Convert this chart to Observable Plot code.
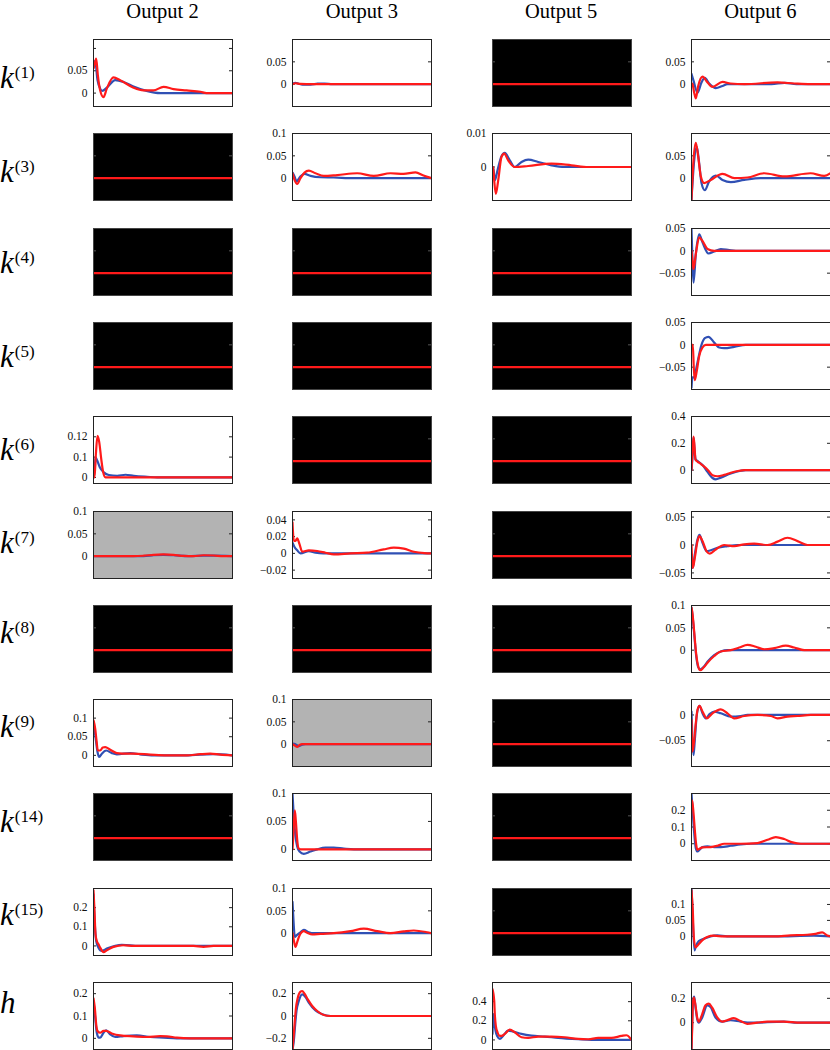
<!DOCTYPE html>
<html><head><meta charset="utf-8">
<script src="https://cdn.jsdelivr.net/npm/d3@7"></script>
<script src="https://cdn.jsdelivr.net/npm/@observablehq/plot@0.6"></script>
<style>
body{margin:0;background:#fff;}
#wrap{position:relative;width:830px;height:1050px;overflow:hidden;font-family:"Liberation Serif","Times New Roman",serif;color:#000;}
.title{position:absolute;top:0;font-size:20.5px;line-height:normal;white-space:nowrap;transform:translateX(-50%);}
.rowlab{position:absolute;left:0;font-size:31px;line-height:31px;font-style:italic;white-space:nowrap;}
.rowlab sup{font-style:normal;font-size:17px;line-height:0;position:relative;top:-10px;vertical-align:baseline;margin-left:1px;}
svg.panel text{font-family:"Liberation Serif","Times New Roman",serif !important;}
</style></head>
<body><div id="wrap"></div>
<script>
// ---------- categories ----------
const outputs = ["Output 2","Output 3","Output 5","Output 6"];
const colKeys = ["o2","o3","o5","o6"];
const rowKeys = ["k1","k3","k4","k5","k6","k7","k8","k9","k14","k15","h"];
const rowBase = ["k","k","k","k","k","k","k","k","k","k","h"];
const rowSup  = ["(1)","(3)","(4)","(5)","(6)","(7)","(8)","(9)","(14)","(15)",""];
// L = fitted panel, B = black (zero) panel, G = gray panel
const kinds = ["LLBL","BLLL","BBBL","BBBL","LBBL","GLBL","BBBL","LGBL","BLBL","LLBL","LLLL"];

// ---------- y scales ----------
const yDomain = {
  k1_o2:[-0.03,0.12], k1_o3:[-0.05,0.1], k1_o6:[-0.05,0.1],
  k3_o3:[-0.05,0.1], k3_o5:[-0.01,0.01], k3_o6:[-0.05,0.1],
  k4_o6:[-0.1,0.05], k5_o6:[-0.1,0.05],
  k6_o2:[-0.03,0.3], k6_o6:[-0.1,0.4],
  k7_o2:[-0.05,0.1], k7_o3:[-0.03,0.05], k7_o6:[-0.06,0.06],
  k8_o6:[-0.05,0.1],
  k9_o2:[-0.03,0.15], k9_o3:[-0.05,0.1], k9_o6:[-0.1,0.03],
  k14_o3:[-0.02,0.1], k14_o6:[-0.1,0.3],
  k15_o2:[-0.05,0.3], k15_o3:[-0.05,0.1], k15_o6:[-0.06,0.15],
  h_o2:[-0.05,0.25], h_o3:[-0.3,0.3], h_o5:[-0.1,0.6], h_o6:[-0.22,0.33]
};
const yTicks = {
  k1_o2:[0,0.05,0.1], k1_o3:[0,0.05,0.1], k1_o6:[0,0.05,0.1],
  k3_o3:[0,0.05,0.1], k3_o5:[0,0.01], k3_o6:[0,0.05,0.1],
  k4_o6:[-0.05,0,0.05], k5_o6:[-0.05,0,0.05],
  k6_o2:[0,0.1,0.2], k6_o6:[0,0.2,0.4],
  k7_o2:[0,0.05,0.1], k7_o3:[-0.02,0,0.02,0.04], k7_o6:[-0.05,0,0.05],
  k8_o6:[0,0.05,0.1],
  k9_o2:[0,0.05,0.1], k9_o3:[0,0.05,0.1], k9_o6:[-0.05,0],
  k14_o3:[0,0.05,0.1], k14_o6:[0,0.1,0.2],
  k15_o2:[0,0.1,0.2], k15_o3:[0,0.05,0.1], k15_o6:[0,0.05,0.1],
  h_o2:[0,0.1,0.2], h_o3:[-0.2,0,0.2], h_o5:[0,0.2,0.4], h_o6:[0,0.2]
};
// ticks drawn without a label
const yUnlabeled = {k1_o2:[0.1], k1_o3:[0.1], k1_o6:[0.1], k3_o6:[0.1]};
// label text that differs from the tick value
const yLabelText = {k6_o2:[[0.2,"0.12"]]};
const offDomain = [-0.05,0.1];
const offTicks = [0,0.05];
const xDomain = [0,139];

// ---------- series: [lag, value] ----------
const k1_o2_blue = [[0,0.06],[0.7,0.068],[1.7,0.072],[4,0.029],[6.7,0.01],[8.7,0.005],[13.3,0.012],[21.7,0.029],[30,0.025],[40,0.015],[53,0.005],[67,0],[139,0]];
const k1_o2_red  = [[0,0.055],[0.7,0.06],[2.7,0.077],[4.3,0.041],[6.7,0.006],[10,-0.009],[13.3,0.01],[20,0.035],[26.7,0.029],[40,0.012],[50,0.006],[60,0.006],[70,0.014],[80,0.009],[93,0.006],[107,0.003],[113,0],[139,0]];
const k1_o3_blue = [[0,0.001],[3,0.003],[6,0.001],[10,-0.001],[18,-0.001],[25,0.001],[32,0.0015],[40,0],[139,0]];
const k1_o3_red  = [[0,0],[3,0.002],[8,0.0005],[20,0],[139,0]];
const k1_o6_blue = [[0,0.023],[2,0.008],[6,-0.019],[10,0.004],[13.3,0.014],[17.7,0.0015],[24.3,-0.009],[31,-0.004],[36,0],[80,0],[93,0.003],[105,0],[139,0]];
const k1_o6_red  = [[0,0.002],[1,0],[2.7,-0.019],[4.3,-0.032],[6.7,-0.004],[11,0.017],[16,0.004],[21,-0.006],[31,0.005],[39,0.0015],[53,0],[86,0.004],[103,0.0015],[119,0],[139,0]];

const k3_o3_blue = [[0,0.0125],[2,0.004],[4,-0.007],[8,0.004],[12,0.0095],[18,0.005],[28,0.002],[41,0.0015],[61,0],[139,0]];
const k3_o3_red  = [[0,0.011],[2,-0.004],[4.7,-0.013],[8,0],[12,0.0125],[16.3,0.017],[23,0.011],[31.3,0.005],[44.7,0.007],[64.7,0.011],[81.3,0.005],[98,0.011],[111,0.0095],[123,0.013],[131,0.006],[139,0]];
const k3_o5_blue = [[0,0],[0.7,0],[2.3,-0.004],[5,-0.001],[9,0.0032],[12.3,0.0042],[17.3,0.002],[22.3,0],[29,0.0015],[35.7,0.0022],[45.7,0.0015],[59,0.0005],[72,0],[139,0]];
const k3_o5_red  = [[0,0],[0.7,0],[1.7,-0.004],[3.3,-0.008],[5.7,-0.004],[9,0.003],[11.7,0.004],[15.7,0.002],[22.3,0],[35.7,0.0003],[59,0.001],[79,0.0005],[95.7,0],[139,0]];
const k3_o6_blue = [[0,-0.048],[2.7,0.04],[5.3,0.07],[7.7,0.033],[10,-0.011],[13.3,-0.027],[17.7,-0.007],[24.3,0.006],[31,-0.004],[39.3,-0.009],[52.7,-0.004],[69,0],[139,0]];
const k3_o6_red  = [[0,-0.048],[2,0.04],[4.3,0.079],[6.7,0.048],[9.3,0.004],[12.7,-0.011],[19.3,-0.004],[31,0.0096],[43,0],[56,0.0015],[72.7,0.011],[93,0.004],[119,0.011],[132.7,0.005],[139,0.011]];

const k4_o6_blue = [[0,0.048],[1,-0.022],[2,-0.071],[4.3,-0.0075],[7.7,0.037],[11,0.019],[17,-0.006],[22.7,-0.0015],[29.3,0.004],[37.7,0.0015],[44.3,0],[139,0]];
const k4_o6_red  = [[0,0],[1,-0.022],[2,-0.041],[4.3,-0.0075],[7.7,0.03],[11,0.022],[16,0.004],[22.7,0],[139,0]];
const k5_o6_blue = [[0,-0.096],[1,-0.073],[2.7,-0.073],[5.3,-0.047],[10,0],[13.3,0.015],[17,0.018],[22.7,0.005],[27.7,-0.006],[32.7,-0.0075],[42.7,-0.0045],[54.3,0],[139,0]];
const k5_o6_red  = [[0,0],[1.3,0],[2.3,-0.051],[3.3,-0.079],[5.3,-0.058],[7.7,-0.025],[11,-0.006],[14.3,0],[139,0]];

const k6_o2_blue = [[0,0.0],[1.3,0.042],[2,0.1],[3.7,0.083],[6.3,0.05],[10.3,0.025],[15.3,0.012],[23.7,0.008],[32,0.013],[40.3,0.008],[53.7,0.003],[63.7,0],[139,0]];
const k6_o2_red  = [[0,0],[1,0],[2.3,0.108],[4,0.205],[5.7,0.175],[7.7,0.092],[9.7,0.025],[12,0],[139,0]];
const k6_o6_blue = [[0,0],[1,0.1],[2,0.244],[3,0.154],[4,0.082],[6.7,0.064],[11,0.038],[16,-0.013],[21,-0.059],[24.3,-0.069],[29.3,-0.056],[39.3,-0.026],[49.3,-0.005],[54.3,0],[139,0]];
const k6_o6_red  = [[0,0],[1,0.128],[2,0.25],[3,0.18],[4,0.077],[6,0.064],[9.3,0.046],[12.7,0.026],[17,-0.005],[21,-0.038],[26,-0.046],[32.7,-0.036],[39.3,-0.02],[47.7,-0.005],[52.7,0],[139,0]];

const k7_o2_blue = [[0,0],[50,0],[60,0.002],[70,0.003],[80,0.002],[95,0],[110,0.001],[120,0.001],[139,0]];
const k7_o2_red  = [[0,0],[40,0],[50,0.001],[60,0.003],[70,0.004],[80,0.003],[90,0.0005],[100,0],[110,0.002],[120,0.0015],[130,0],[139,0]];
const k7_o3_blue = [[0,0.0127],[2,0.0076],[4.7,0.0036],[8,0],[16.3,0.0028],[23,0.0008],[31,0],[139,0]];
const k7_o3_red  = [[0,0.037],[1.3,0.015],[3,0.015],[4.7,0.018],[7,0.011],[9.7,0.002],[16.3,0.0036],[24.7,0.0028],[33,0.0008],[41.3,-0.0012],[58,0],[74.7,0.0008],[91.3,0.0048],[101.3,0.0068],[111.3,0.0056],[121.3,0.002],[132,0.0003],[139,0]];
const k7_o6_blue = [[0,-0.038],[1.3,-0.041],[3.3,-0.017],[6,0.01],[8,0.018],[11,0.004],[15.3,-0.011],[19.3,-0.0095],[26,-0.005],[36,-0.002],[46,0],[139,0]];
const k7_o6_red  = [[0,0],[0.7,-0.029],[1.3,-0.041],[3.3,-0.023],[6,0.007],[8,0.016],[11,0.007],[15.3,-0.012],[18.3,-0.0155],[24.3,-0.008],[32.7,0],[42.7,-0.002],[52.7,0.0012],[62.7,0.0024],[76,0],[86,0.006],[96,0.013],[106,0.007],[116,0],[139,0]];

const k8_o6_blue = [[0,0.095],[1,0.078],[2,0.055],[3.3,0.021],[4.7,-0.013],[6.7,-0.038],[8.7,-0.043],[12,-0.038],[16,-0.026],[22.7,-0.011],[29.3,-0.003],[36,0],[139,0]];
const k8_o6_red  = [[0,0.095],[1,0.082],[2,0.059],[3.3,0.025],[4.7,-0.009],[6.7,-0.036],[8.7,-0.045],[12,-0.039],[16,-0.028],[22.7,-0.013],[29.3,-0.003],[39.3,0],[47.7,0.006],[56,0.012],[64.3,0.0076],[72.7,0.002],[82.7,0.0045],[94.3,0.01],[102.7,0.006],[112.7,0],[139,0]];

const k9_o2_blue = [[0,0.09],[2,0.049],[4,0.009],[5.7,-0.0045],[8.3,0.0045],[12.7,0.013],[18.3,0.006],[23.3,0.0027],[36.7,0.006],[46.7,0.0027],[60,0],[95,0],[106.7,0.002],[120,0.003],[139,0]];
const k9_o2_red  = [[0,0.094],[1.7,0.072],[3,0.04],[4.3,0.013],[6.7,0.013],[9.3,0.021],[11.7,0.022],[16.7,0.015],[23.3,0.006],[33.3,0.0045],[40,0.0045],[56.7,0.002],[73.3,0],[93.3,0],[106.7,0.003],[116.7,0.0045],[126.7,0.002],[139,0]];
const k9_o3_blue = [[0,0.0015],[3,0],[6.3,-0.0045],[9.7,-0.001],[13,0],[139,0]];
const k9_o3_red  = [[0,0],[2.3,-0.003],[4.7,-0.006],[7,-0.002],[9.7,0],[139,0]];
const k9_o6_blue = [[0,0.0065],[1,-0.049],[2,-0.078],[3.3,-0.049],[5.3,0],[8,0.0175],[11,0.0032],[14.3,-0.0065],[18.3,0.002],[22.7,0.0065],[29.3,0.0032],[39.3,-0.0032],[49.3,-0.002],[56,0],[139,0]];
const k9_o6_red  = [[0,-0.01],[1,-0.071],[2.7,-0.049],[4.3,-0.016],[6,0.01],[8,0.0175],[11,0.0065],[15.3,-0.0065],[21,0.0032],[29.3,0.011],[36,0.0032],[42.7,-0.0065],[52.7,-0.002],[66,0],[79.3,-0.002],[86,-0.0065],[96,-0.0032],[106,-0.002],[119.3,0],[139,0]];

const k14_o3_blue = [[0,0.1],[1.3,0.058],[3,0.023],[4.7,0.005],[7,-0.004],[11.3,-0.008],[18,-0.004],[24.7,0],[33,0.003],[41.3,0.003],[51.3,0.0012],[61.3,0],[139,0]];
const k14_o3_red  = [[0,0],[1,0.029],[2.3,0.07],[3.3,0.052],[4.7,0.017],[6,0.002],[8,0],[139,0]];
const k14_o6_blue = [[0,0.3],[1.3,0.184],[2.7,0.064],[4.3,-0.026],[6,-0.046],[8,-0.036],[11,-0.02],[16,-0.016],[22.7,-0.02],[29.3,-0.02],[39.3,-0.012],[49.3,-0.004],[59.3,0],[139,0]];
const k14_o6_red  = [[0,0.26],[1,0.244],[2,0.184],[3.3,0.084],[4.7,-0.006],[6,-0.036],[8,-0.03],[11,-0.022],[19.3,-0.02],[26,-0.012],[32.7,0],[49.3,0],[66,0.004],[76,0.024],[84.3,0.04],[92.7,0.028],[101,0.008],[109.3,0],[139,0]];

const k15_o2_blue = [[0,0.27],[1.3,0.114],[2.7,0.026],[5,-0.009],[8.3,-0.026],[13.3,-0.014],[21.7,0],[28.3,0.005],[36.7,0.0035],[43.3,0],[139,0]];
const k15_o2_red  = [[0,0.29],[1,0.184],[2,0.061],[3.3,0.026],[5,0.009],[6.7,-0.009],[10,-0.032],[13.3,-0.023],[20,-0.005],[30,0.0035],[40,0],[100,0],[110,-0.005],[120,0],[139,0]];
const k15_o3_blue = [[0,0.07],[1,0.028],[2.3,-0.009],[4,-0.005],[8,0.002],[11.3,0.0075],[16.3,0.002],[21.3,0],[139,0]];
const k15_o3_red  = [[0,0],[1.3,-0.016],[3,-0.031],[4.7,-0.02],[7,-0.005],[11.3,0.0045],[14.7,0.0008],[19.7,-0.003],[28,-0.0015],[41.3,0],[58,0.0045],[71.3,0.01],[84.7,0.0045],[98,0],[111.3,0.004],[121.3,0.006],[134.7,0.002],[139,0]];
const k15_o6_blue = [[0,0.154],[1.3,0.05],[3,-0.044],[4.7,-0.028],[7.3,-0.0146],[12.3,-0.0073],[19,0],[25.7,0.003],[35.7,0],[82.3,0],[122.3,0.002],[139,0]];
const k15_o6_red  = [[0,0.144],[1.3,0.081],[2.3,-0.002],[4,-0.035],[6.3,-0.028],[10.7,-0.0125],[15.7,-0.002],[22.3,0.002],[32.3,0],[82.3,0],[99,0.003],[115.7,0.005],[124,0.008],[130.7,0.0125],[135.7,0.003],[139,0]];

const h_o2_blue = [[0,0.167],[1.7,0.093],[3.3,0.025],[5.3,0.003],[6.7,0.003],[10,0.025],[12.7,0.036],[16.7,0.018],[21.7,0.006],[30,0.01],[43.3,0.013],[56.7,0.006],[70,0.003],[83.3,0],[139,0]];
const h_o2_red  = [[0,0.179],[1.3,0.137],[2.7,0.063],[4,0.033],[6.7,0.025],[10,0.033],[12.7,0.033],[18.3,0.022],[26.7,0.013],[40,0.009],[53.3,0.006],[66.7,0.01],[73.3,0.009],[83.3,0.003],[96.7,0],[139,0]];
const h_o3_blue = [[0,-0.3],[1.3,-0.224],[2.7,-0.075],[4,0.045],[6.3,0.134],[9.7,0.194],[13,0.17],[16.3,0.12],[23,0.05],[29.7,0.015],[38,0],[139,0]];
const h_o3_red  = [[0,-0.3],[1.3,-0.164],[2.3,-0.045],[3.3,0.06],[5.3,0.164],[8,0.218],[9.7,0.224],[12,0.2],[15.3,0.149],[19.7,0.09],[24.7,0.045],[31.3,0.009],[38,0],[139,0]];
const h_o5_blue = [[0,0.063],[1,0.27],[1.7,0.2],[3,0.097],[5,0.035],[7.3,0.01],[10.7,0.045],[15.7,0.097],[20.7,0.087],[29,0.063],[39,0.045],[52.3,0.035],[65.7,0.021],[85.7,0.007],[99,0],[139,0]];
const h_o5_red  = [[0,0.53],[1.7,0.41],[2.3,0.27],[3.3,0.15],[5,0.08],[6.7,0.045],[9,0.042],[12.3,0.063],[17.3,0.108],[22.3,0.08],[29,0.028],[35.7,0.021],[45.7,0.035],[59,0.035],[72.3,0.028],[85.7,0.01],[95.7,0.007],[105.7,0.021],[119,0.021],[129,0.042],[134,0.049],[139,0]];
const h_o6_blue = [[0,-0.22],[0.7,0.014],[1.7,0.186],[2.7,0.214],[4,0.129],[5.7,0.029],[7.3,0],[10.7,0.043],[15.7,0.143],[19,0.129],[24,0.043],[30.7,0.009],[39,0.02],[49,0.009],[59,0],[92.3,0.009],[105.7,0],[139,0]];
const h_o6_red  = [[0,-0.22],[0.7,-0.043],[1.3,0.157],[2.3,0.206],[3.7,0.157],[5.7,0.043],[7.3,0.009],[10.7,0.071],[14,0.143],[17.3,0.157],[20.7,0.123],[25.7,0.043],[30.7,0.009],[35.7,0.02],[42.3,0.037],[49,0.014],[55.7,-0.009],[65.7,0],[75.7,0.009],[92.3,0.009],[109,0],[139,0]];

// registry built from the named arrays above
const series = {
  k1_o2:[k1_o2_blue,k1_o2_red], k1_o3:[k1_o3_blue,k1_o3_red], k1_o6:[k1_o6_blue,k1_o6_red],
  k3_o3:[k3_o3_blue,k3_o3_red], k3_o5:[k3_o5_blue,k3_o5_red], k3_o6:[k3_o6_blue,k3_o6_red],
  k4_o6:[k4_o6_blue,k4_o6_red], k5_o6:[k5_o6_blue,k5_o6_red],
  k6_o2:[k6_o2_blue,k6_o2_red], k6_o6:[k6_o6_blue,k6_o6_red],
  k7_o2:[k7_o2_blue,k7_o2_red], k7_o3:[k7_o3_blue,k7_o3_red], k7_o6:[k7_o6_blue,k7_o6_red],
  k8_o6:[k8_o6_blue,k8_o6_red],
  k9_o2:[k9_o2_blue,k9_o2_red], k9_o3:[k9_o3_blue,k9_o3_red], k9_o6:[k9_o6_blue,k9_o6_red],
  k14_o3:[k14_o3_blue,k14_o3_red], k14_o6:[k14_o6_blue,k14_o6_red],
  k15_o2:[k15_o2_blue,k15_o2_red], k15_o3:[k15_o3_blue,k15_o3_red], k15_o6:[k15_o6_blue,k15_o6_red],
  h_o2:[h_o2_blue,h_o2_red], h_o3:[h_o3_blue,h_o3_red], h_o5:[h_o5_blue,h_o5_red], h_o6:[h_o6_blue,h_o6_red]
};

// ---------- layout ----------
const BLUE = "#3050b4", RED = "#ff1a1a";
const PW = 139, PH = 67, ML = 45, MR = 3, MT = 3, MB = 3;
const colLeft = c => 93 + c * 199.3;
const rowTop = r => 39 + r * 94.3;
const labelBaseline = [88, 181.7, 273.3, 366.7, 460, 553.3, 643.3, 736.7, 831.7, 925, 1013.3];

const wrap = document.getElementById("wrap");

outputs.forEach((t, c) => {
  const d = document.createElement("div");
  d.className = "title";
  d.textContent = t;
  d.style.left = (colLeft(c) + PW / 2) + "px";
  wrap.appendChild(d);
});

rowKeys.forEach((rk, r) => {
  const d = document.createElement("div");
  d.className = "rowlab";
  d.innerHTML = rowBase[r] + (rowSup[r] ? "<sup>" + rowSup[r] + "</sup>" : "");
  d.style.top = (labelBaseline[r] - 25.9) + "px";
  wrap.appendChild(d);
});

function fmt(key) {
  const over = new Map(yLabelText[key] || []);
  return d => over.has(d) ? over.get(d) : (d < 0 ? "\u2212" + Math.abs(d) : String(d));
}

rowKeys.forEach((rk, r) => {
  colKeys.forEach((ck, c) => {
    const key = rk + "_" + ck;
    const kind = kinds[r][c];
    const live = kind !== "B";
    const domain = live ? yDomain[key] : offDomain;
    const ticks = live ? yTicks[key] : offTicks;
    const hidden = new Set(yUnlabeled[key] || []);
    const labeled = live ? ticks.filter(t => !hidden.has(t)) : [];
    const fill = kind === "B" ? "black" : kind === "G" ? "#b3b3b3" : "white";
    const tickColor = kind === "B" ? "#555" : "#222";
    const marks = [
      Plot.frame({fill}),
      Plot.gridY({ticks, stroke: tickColor, strokeOpacity: 1, strokeWidth: 1, insetRight: PW - 3}),
      Plot.gridY({ticks, stroke: tickColor, strokeOpacity: 1, strokeWidth: 1, insetLeft: PW - 3})
    ];
    if (labeled.length) {
      marks.push(Plot.axisY({ticks: labeled, anchor: "left", tickSize: 0, tickPadding: 6, tickFormat: fmt(key), label: null}));
    }
    if (live) {
      const [b, rd] = series[key];
      marks.push(Plot.line(b, {x: d => d[0], y: d => d[1], stroke: BLUE, strokeWidth: 2.2, curve: "monotone-x", clip: true}));
      marks.push(Plot.line(rd, {x: d => d[0], y: d => d[1], stroke: RED, strokeWidth: 2.2, curve: "monotone-x", clip: true}));
    } else {
      marks.push(Plot.ruleY([0], {stroke: RED, strokeWidth: 2.2}));
    }
    marks.push(Plot.frame({stroke: kind === "B" ? "#444" : "#222", strokeWidth: 1}));
    const svg = Plot.plot({
      width: PW + ML + MR, height: PH + MT + MB,
      marginLeft: ML, marginRight: MR, marginTop: MT, marginBottom: MB,
      x: {domain: xDomain, axis: null},
      y: {domain, axis: null},
      style: {fontFamily: '"Liberation Serif","Times New Roman",serif', fontSize: "11.5px", background: "transparent", overflow: "visible", color: "#111"},
      marks
    });
    svg.classList.add("panel");
    svg.style.left = (colLeft(c) - ML) + "px";
    svg.style.top = (rowTop(r) - MT) + "px";
    svg.style.position = "absolute";
    wrap.appendChild(svg);
  });
});
</script></body></html>
